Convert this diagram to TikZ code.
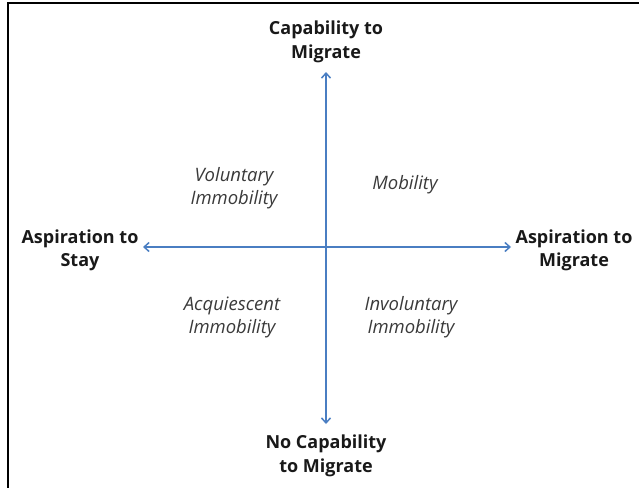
\documentclass[tikz,border=0pt]{standalone}
\usepackage{fontspec}
\setmainfont{Open Sans}
\usetikzlibrary{arrows.meta}
\definecolor{axisblue}{HTML}{4A7EC2}
\definecolor{labgray}{HTML}{3A3A3A}
\begin{document}
\begin{tikzpicture}[x=1pt,y=-1pt,
  axis/.style={draw=axisblue,line width=2.1pt,-{Straight Barb[length=5pt,width=9pt,line width=1.5pt]}},
  head/.style={font=\fontsize{18}{23.5}\selectfont\bfseries,align=center,text=black!90,inner sep=0pt},
  quad/.style={font=\fontsize{18.5}{23}\selectfont\itshape,align=center,text=labgray,inner sep=0pt},
  frame/.style={draw=black,line width=2.2pt}]
\useasboundingbox (0,0) rectangle (639,488);
\coordinate (ftl) at (8,3);
\coordinate (ftr) at (639,3);
\coordinate (fbl) at (8,488);
\draw[frame] (ftr) -- (ftl) -- (fbl);
\node[head] (cap) at (326,42) {Capability to\\Migrate};
\node[head] (nocap) at (326,456) {No Capability\\to Migrate};
\node[head] (stay) at (80,250.5) {Aspiration to\\Stay};
\node[head] (mig) at (574,250.5) {Aspiration to\\Migrate};
\coordinate (o) at (326,247);
\coordinate (top) at (326,72);
\coordinate (bot) at (326,424);
\coordinate (lft) at (143,247);
\coordinate (rgt) at (511,247);
\draw[axis] (o) -- (top);
\draw[axis] (o) -- (bot);
\draw[axis] (o) -- (lft);
\draw[axis] (o) -- (rgt);
\node[quad] (vol) at (234,188.5) {Voluntary\\Immobility};
\node[quad] (mob) at (405,185) {Mobility};
\node[quad] (acq) at (232,317) {Acquiescent\\Immobility};
\node[quad] (inv) at (411,317) {Involuntary\\Immobility};
\end{tikzpicture}
\end{document}
